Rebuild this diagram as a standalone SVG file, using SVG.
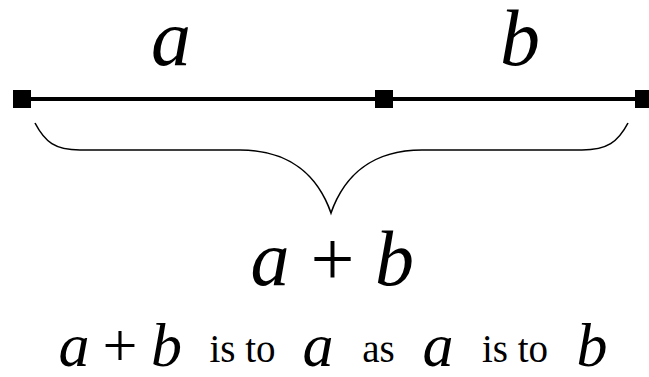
<svg xmlns="http://www.w3.org/2000/svg" width="649" height="377" viewBox="0 0 649 377">
<style>
text,tspan{font-family:'Liberation Serif','DejaVu Serif',serif}
.it{font-style:italic;fill:#000;text-anchor:middle}
.rm{font-style:normal;fill:#000;text-anchor:middle}
.pt{fill:#000}
</style>
<rect width="649" height="377" fill="#fff"/>
<g id="connectors">
<line x1="22" y1="99" x2="644" y2="99" stroke="#000" stroke-width="4"/>
<path id="brace" d="M35,123 C45,142 55,150 80,150 L240,150 C290,150 318,176 331,213 C344,176 372,150 422,150 L582,150 C607,150 618,142 628,123" fill="none" stroke="#000" stroke-width="1.6"/>
</g>
<g id="p1"><rect class="pt" x="13" y="90" width="18" height="18"/></g>
<g id="p2"><rect class="pt" x="375" y="90" width="18" height="18"/></g>
<g id="p3"><rect class="pt" x="635" y="90" width="18" height="18"/></g>
<g id="label-a"><text class="it" x="171" y="65" font-size="80" font-family="Liberation Serif, serif">a</text></g>
<g id="label-b"><text class="it" x="520" y="65" font-size="80" font-family="Liberation Serif, serif">b</text></g>
<g id="label-sum"><text y="285" font-size="78" font-family="Liberation Serif, serif"><tspan class="it" x="270">a</tspan><tspan class="rm" x="332.5">+</tspan><tspan class="it" x="394.5">b</tspan></text></g>
<g id="caption" font-family="Liberation Serif, serif">
<text y="366" font-size="62"><tspan class="it" x="74">a</tspan><tspan class="rm" x="120">+</tspan><tspan class="it" x="166.5">b</tspan></text>
<text class="rm" x="242.5" y="362" font-size="39">is to</text>
<text class="it" x="318" y="366" font-size="62">a</text>
<text class="rm" x="378.5" y="362" font-size="39">as</text>
<text class="it" x="438" y="366" font-size="62">a</text>
<text class="rm" x="515" y="362" font-size="39">is to</text>
<text class="it" x="592" y="366" font-size="62">b</text>
</g>
</svg>
